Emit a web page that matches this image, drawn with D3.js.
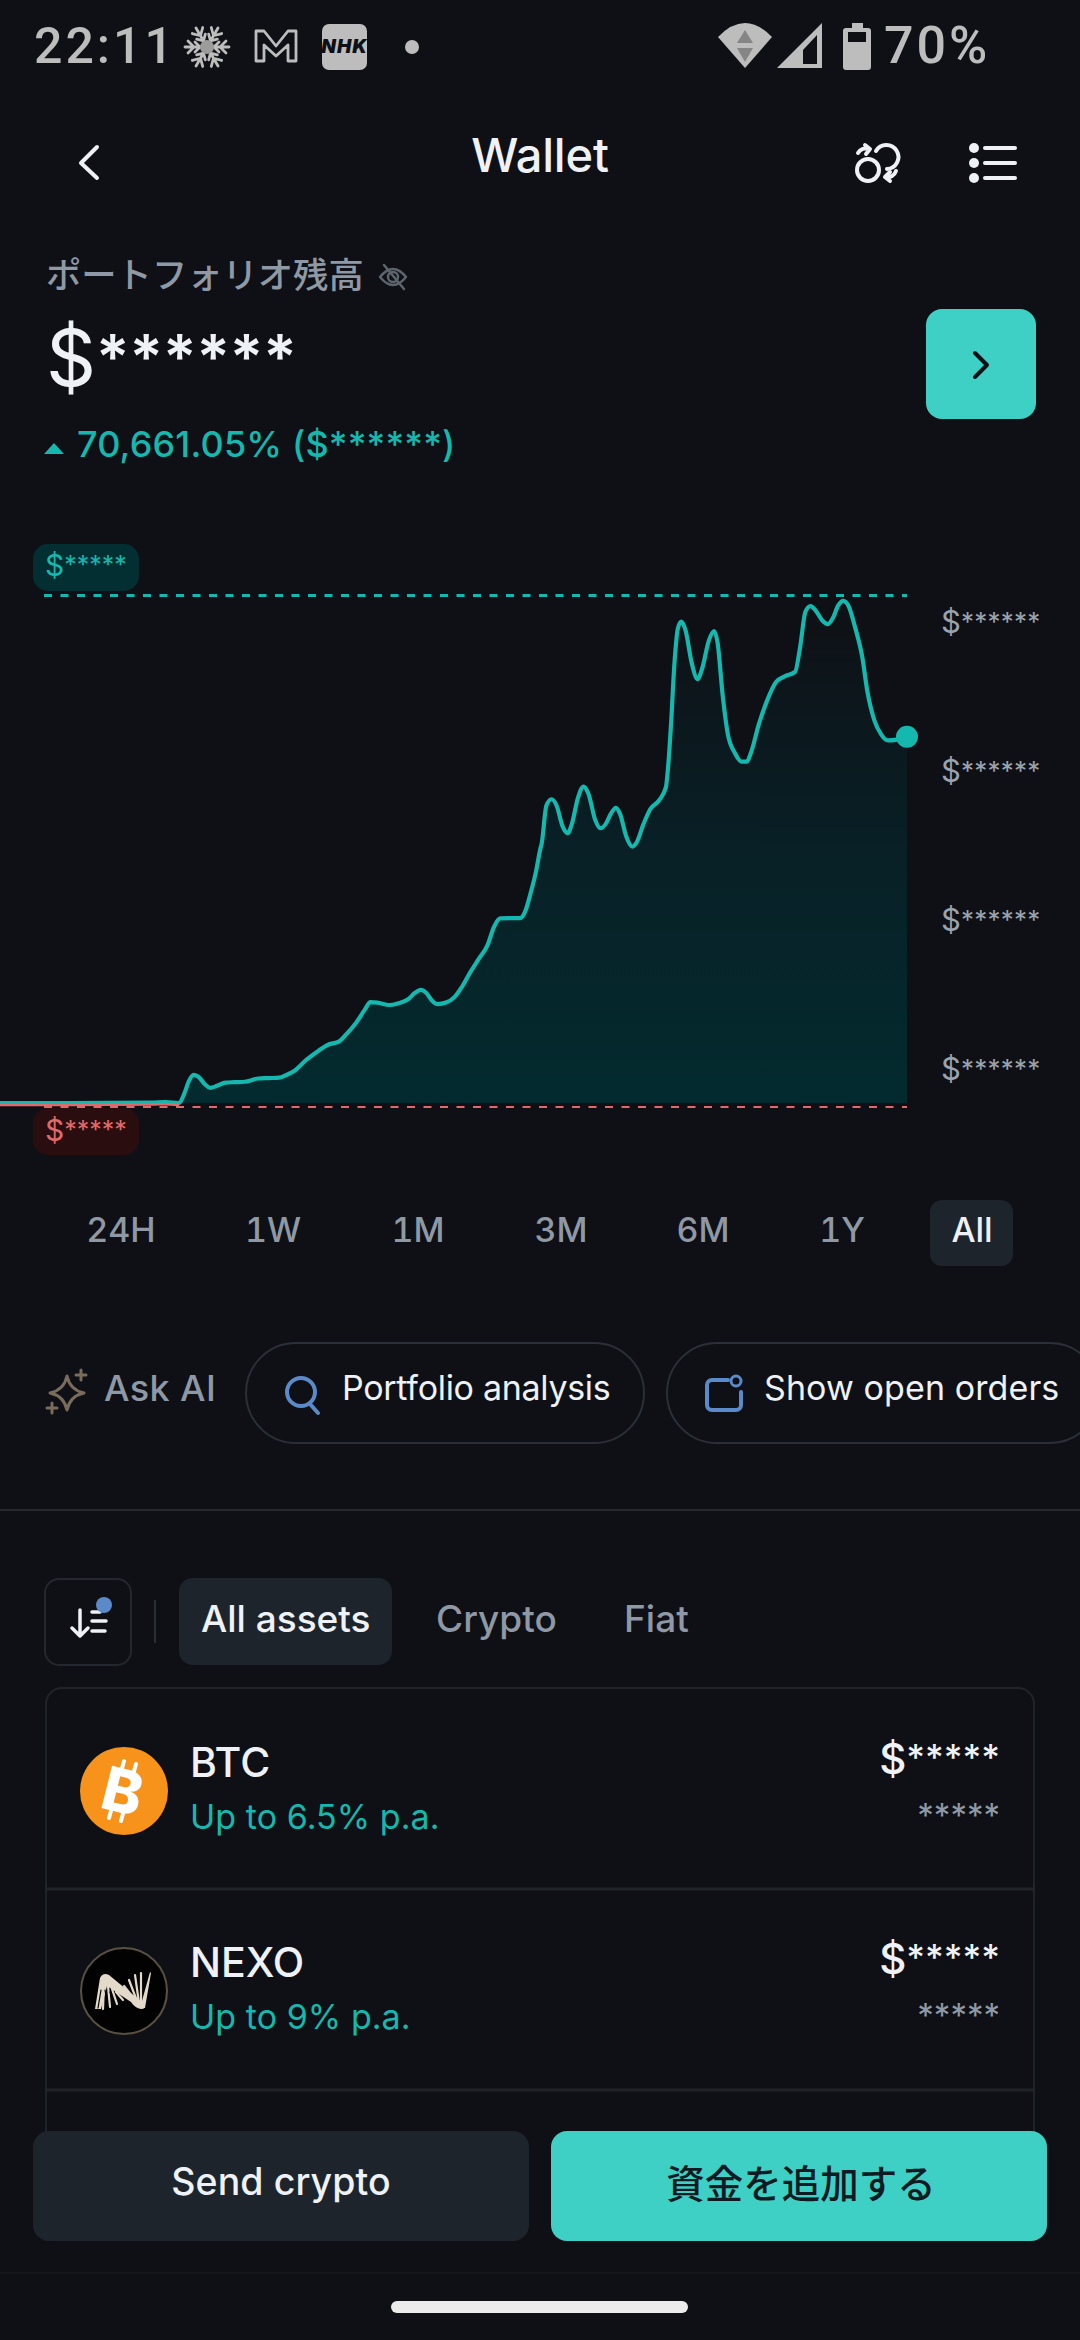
<!DOCTYPE html>
<html>
<head>
<meta charset="utf-8">
<script src="https://cdn.jsdelivr.net/npm/d3@7.9.0/dist/d3.min.js"></script>
<style>
  html, body { margin: 0; padding: 0; background: #0f1015; }
  svg { display: block; font-family: Inter, "Noto Sans CJK JP", sans-serif; }
</style>
</head>
<body>
<svg id="app" width="1080" height="2340"></svg>
<script>
const time = [0, 200, 440, 480, 520, 535, 548, 562, 575, 595, 610, 630, 655, 680, 710, 750, 780, 810, 830, 855,
  890, 925, 950, 985, 1005, 1035, 1060, 1075, 1095, 1130, 1155, 1185, 1205, 1222, 1237, 1255, 1270, 1295, 1320, 1340,
  1365, 1390, 1415, 1435, 1452, 1480, 1510, 1525, 1540, 1555, 1568, 1573, 1586, 1601, 1616, 1633, 1648, 1660, 1678, 1694,
  1708, 1728, 1743, 1758, 1773, 1788, 1800, 1818, 1836, 1848, 1868, 1888, 1913, 1933, 1940, 1948, 1958, 1968, 1978, 1990,
  2008, 2025, 2038, 2058, 2073, 2083, 2098, 2113, 2133, 2153, 2168, 2180, 2203, 2228, 2253, 2278, 2308, 2323, 2338, 2353,
  2368, 2388, 2403, 2418, 2433, 2448, 2463, 2483, 2503, 2518, 2538, 2558, 2578, 2603, 2633];
const balance = [0, 0, 1, 2, 0, 23, 53, 69, 65, 46, 37, 42, 50, 51, 52, 60, 61, 62, 68, 79,
  106, 128, 142, 151, 168, 198, 230, 247, 246, 240, 244, 254, 270, 277, 270, 250, 242, 246, 260, 283,
  320, 353, 386, 433, 452, 453, 453, 470, 513, 563, 620, 638, 728, 744, 728, 678, 661, 683, 748, 775,
  758, 693, 673, 683, 708, 723, 708, 653, 628, 638, 683, 720, 741, 773, 828, 928, 1078, 1163, 1179, 1158,
  1078, 1038, 1063, 1133, 1156, 1128, 998, 903, 858, 836, 836, 858, 928, 988, 1031, 1045, 1056, 1118, 1203, 1217,
  1206, 1181, 1173, 1188, 1218, 1230, 1218, 1163, 1093, 1008, 938, 903, 888, 890, 897];
const balanceTicks = [83, 448, 813, 1178];
const balanceHigh = 1243;
const balanceLow = -10;
const lowRunEnd = 520;

const periods = ['24H', '1W', '1M', '3M', '6M', '1Y', 'All'];
const assetTabs = ['All assets', 'Crypto', 'Fiat'];
const assets = ['BTC', 'NEXO'];
const assetRates = ['Up to 6.5% p.a.', 'Up to 9% p.a.'];

const bg = '#0f1015';
const teal = '#14b8ae';
const tealBright = '#3ecfc5';
const red = '#e06a6a';
const grey = '#8e99a5';
const white = '#eef2f6';
const panel = '#1e242c';
const blue = '#5b8ac9';

const svg = d3.select('#app');

function label(parent, str, x, y, size, fill, weight = 400, anchor = 'start', spacing = 0) {
  return parent.append('text').attr('x', x).attr('y', y)
    .attr('font-size', size).attr('fill', fill).attr('font-weight', weight)
    .attr('text-anchor', anchor).attr('letter-spacing', spacing).text(str);
}

// masked amount: the dollar sign is drawn larger than the stars and the stars sit a bit higher
function fillMasked(text, stars, dollarSize, starSize, lift, starWeight = 400) {
  text.text(null);
  text.append('tspan').attr('font-size', dollarSize).text('$');
  text.append('tspan').attr('font-size', starSize).attr('font-weight', starWeight).attr('dy', -lift).text('*'.repeat(stars));
}

function masked(parent, stars, x, y, dollarSize, starSize, lift, fill, weight = 400, anchor = 'start', starWeight = 400) {
  const t = label(parent, '', x, y, dollarSize, fill, weight, anchor);
  fillMasked(t, stars, dollarSize, starSize, lift, starWeight);
  return t;
}

function box(parent, x0, y0, x1, y1, r, fill, stroke, sw = 2) {
  return parent.append('rect').attr('x', x0).attr('y', y0)
    .attr('width', x1 - x0).attr('height', y1 - y0).attr('rx', r)
    .attr('fill', fill || 'none').attr('stroke', stroke || 'none').attr('stroke-width', sw);
}

function stroked(parent, d, color, sw, fill = 'none') {
  return parent.append('path').attr('d', d).attr('fill', fill).attr('stroke', color)
    .attr('stroke-width', sw).attr('stroke-linecap', 'round').attr('stroke-linejoin', 'round');
}

// ---- chart
const x = d3.scaleLinear().domain([0, 2633]).range([0, 907]);
const y = d3.scaleLinear().domain([0, balanceHigh]).range([1103, 595.5]);
const points = time.map((t, i) => ({ t, v: balance[i] }));

const grad = svg.append('defs').append('linearGradient').attr('id', 'fade')
  .attr('gradientUnits', 'userSpaceOnUse')
  .attr('x1', 0).attr('x2', 0).attr('y1', y(balanceHigh)).attr('y2', y(0));
grad.append('stop').attr('offset', 0).attr('stop-color', '#0f1015');
grad.append('stop').attr('offset', 0.5).attr('stop-color', '#082026');
grad.append('stop').attr('offset', 1).attr('stop-color', '#032b2f');

const area = d3.area().x((d) => x(d.t)).y0(y(0)).y1((d) => y(d.v)).curve(d3.curveMonotoneX);
const line = d3.line().x((d) => x(d.t)).y((d) => y(d.v)).curve(d3.curveMonotoneX);

svg.append('path').attr('d', area(points)).attr('fill', 'url(#fade)');

// high and low markers
svg.append('line').attr('x1', 44).attr('x2', x(2633)).attr('y1', y(balanceHigh)).attr('y2', y(balanceHigh))
  .attr('stroke', teal).attr('stroke-width', 3).attr('stroke-dasharray', '8 8.5');
svg.append('line').attr('x1', 44).attr('x2', x(2633)).attr('y1', y(balanceLow)).attr('y2', y(balanceLow))
  .attr('stroke', red).attr('stroke-width', 2).attr('stroke-dasharray', '8 8.5');

svg.append('path').attr('d', line(points)).attr('fill', 'none').attr('stroke', teal).attr('stroke-width', 4.2);
svg.append('path').attr('d', line(points.filter((d) => d.t <= lowRunEnd)))
  .attr('transform', 'translate(0,2)').attr('fill', 'none').attr('stroke', red).attr('stroke-width', 2.4);

svg.append('circle').attr('cx', x(2633)).attr('cy', y(897)).attr('r', 11).attr('fill', teal);

box(svg, 33, 544, 139, 591, 15, '#032f33');
masked(svg, 5, 45, 576, 30, 25, 2, teal);
box(svg, 33, 1108, 139, 1155, 15, '#2a0d0e');
masked(svg, 5, 45, 1141, 30, 25, 2, red);

const axis = d3.axisRight(y).tickValues(balanceTicks).tickSize(0).tickPadding(0);
const axisG = svg.append('g').attr('transform', 'translate(941,0)').call(axis);
axisG.select('.domain').remove();
axisG.selectAll('text').attr('fill', '#9aa3ad').attr('font-family', 'Inter, sans-serif').attr('dy', 10)
  .attr('letter-spacing', 0.2)
  .each(function () { fillMasked(d3.select(this), 6, 31, 26, 2); });

// ---- status bar
const statusGrey = '#bdbdbd';
label(svg, '22:11', 34, 63, 50, statusGrey, 500, 'start', 3).attr('font-family', 'Roboto');
label(svg, '70%', 884, 63, 52, statusGrey, 500, 'start', 3).attr('font-family', 'Roboto');

const snow = svg.append('g').attr('transform', 'translate(207,47)');
d3.range(3).forEach((i) => {
  const arm = snow.append('g').attr('transform', `rotate(${90 + i * 60})`);
  stroked(arm, 'M0,-22V22M-6,-19L0,-13L6,-19M-5,-12L0,-7L5,-12M-6,19L0,13L6,19M-5,12L0,7L5,12', statusGrey, 2.8);
});
snow.append('circle').attr('r', 7).attr('fill', '#9c9c9c');
stroked(svg, 'M256,31H264L276,46L288,31H296V61H288V45L276,56L264,45V61H256Z', statusGrey, 2.8);
box(svg, 322, 24, 367, 70, 7, statusGrey);
label(svg, 'NHK', 344.5, 53, 19, '#0f1015', 900, 'middle', 1).attr('font-style', 'italic');
svg.append('circle').attr('cx', 412).attr('cy', 47).attr('r', 7).attr('fill', statusGrey);
svg.append('path').attr('d', 'M718,37Q745,9 772,37L745,68Z').attr('fill', statusGrey);
svg.append('path').attr('d', 'M745,30L737,43H753Z M745,62L737,48H753Z').attr('fill', '#858585');
svg.append('path').attr('d', 'M822,23V68H777ZM817,35L803,50V64H817Z').attr('fill', statusGrey).attr('fill-rule', 'evenodd');
svg.append('path').attr('d', 'M852,23H863V28H868Q871,28 871,31V67Q871,70 868,70H846Q843,70 843,67V31Q843,28 846,28H852Z').attr('fill', statusGrey);
box(svg, 848, 32, 866, 42, 0, '#0f1015');

// ---- nav bar
stroked(svg, 'M97,147L81,163L97,178', white, 4);
label(svg, 'Wallet', 540, 172, 47, white, 500, 'middle', -0.2);
svg.append('circle').attr('cx', 868).attr('cy', 170).attr('r', 11).attr('fill', 'none').attr('stroke', white).attr('stroke-width', 4);
stroked(svg, 'M876,151a12,12 0 1 1 11,18', white, 4);
stroked(svg, 'M858,153a9,9 0 0 1 11,-4M865,145l5,4l-4,5', white, 4);
stroked(svg, 'M896,171a9,9 0 0 1 -11,6M890,172l-5,5l5,4', white, 4);
[0, 1, 2].forEach((i) => {
  svg.append('circle').attr('cx', 974).attr('cy', 148 + i * 15).attr('r', 5).attr('fill', white);
  svg.append('line').attr('x1', 985).attr('x2', 1015).attr('y1', 148 + i * 15).attr('y2', 148 + i * 15)
    .attr('stroke', white).attr('stroke-width', 4).attr('stroke-linecap', 'round');
});

// ---- balance header
label(svg, 'ポートフォリオ残高', 46, 288, 35.3, grey, 500).attr('font-family', '"Noto Sans CJK JP"');
stroked(svg, 'M380,277q13,-16 26,0q-13,16 -26,0ZM384,265L404,289', '#5c646c', 2.5);
svg.append('circle').attr('cx', 393).attr('cy', 277).attr('r', 5).attr('fill', 'none').attr('stroke', '#5c646c').attr('stroke-width', 2.5);
masked(svg, 6, 46, 386, 78, 62, 7, white, 400, 'start', 600);
box(svg, 926, 309, 1036, 419, 16, tealBright);
stroked(svg, 'M975,353L987,365L975,377', bg, 4);
svg.append('path').attr('d', 'M44,454L54,443L64,454Z').attr('fill', teal);
label(svg, '70,661.05% ($******)', 77, 457, 36, teal, 500, 'start', 0.15);

// ---- period switch
const periodX = [121, 273, 418, 561, 703, 842, 972];
box(svg, 930, 1200, 1013, 1266, 12, panel);
periods.forEach((p, i) => {
  label(svg, p, periodX[i], 1242, 34, p === 'All' ? white : grey, 500, 'middle')
    .style('font-feature-settings', '"tnum"');
});

// ---- ask AI row
const sparkle = '#7a6c5d';
stroked(svg, 'M67,1376q3,14 17,17q-14,3 -17,17q-3,-14 -17,-17q14,-3 17,-17Z', sparkle, 3);
stroked(svg, 'M81,1370v10M76,1375h10M52,1403v10M47,1408h10', sparkle, 3);
label(svg, 'Ask AI', 104, 1401, 36, grey, 500, 'start', 0.4);
box(svg, 246, 1343, 644, 1443, 50, 'none', '#2a3038');
box(svg, 667, 1343, 1100, 1443, 50, 'none', '#2a3038');
svg.append('circle').attr('cx', 301).attr('cy', 1392).attr('r', 14).attr('fill', 'none').attr('stroke', blue).attr('stroke-width', 4);
stroked(svg, 'M310,1404L318,1413', blue, 4);
label(svg, 'Portfolio analysis', 342, 1400, 34, white, 400, 'start', -0.3);
stroked(svg, 'M728,1380H712a5,5 0 0 0 -5,5V1405a5,5 0 0 0 5,5H736a5,5 0 0 0 5,-5V1392', blue, 4);
svg.append('circle').attr('cx', 736).attr('cy', 1381).attr('r', 5).attr('fill', 'none').attr('stroke', blue).attr('stroke-width', 3);
label(svg, 'Show open orders', 764, 1400, 34, white, 400, 'start', 0.1);

svg.append('line').attr('x1', 0).attr('x2', 1080).attr('y1', 1510).attr('y2', 1510).attr('stroke', '#24282f').attr('stroke-width', 2);

// ---- asset filters
box(svg, 45, 1579, 131, 1665, 14, 'none', '#232830');
stroked(svg, 'M80,1610V1636M72,1628L80,1636L88,1628', white, 3.5);
stroked(svg, 'M92,1612H100M92,1621H106M92,1631H105', white, 3.5);
svg.append('circle').attr('cx', 104).attr('cy', 1605).attr('r', 8).attr('fill', blue);
svg.append('line').attr('x1', 155).attr('x2', 155).attr('y1', 1600).attr('y2', 1643).attr('stroke', '#2a2f36').attr('stroke-width', 2);
box(svg, 179, 1578, 392, 1665, 14, panel);
const tabX = [201, 436, 624];
assetTabs.forEach((tab, i) => {
  label(svg, tab, tabX[i], 1632, 37, i === 0 ? white : grey, 500);
});

// ---- asset list
const cardLine = '#1f242b';
stroked(svg, 'M46,2131V1704a16,16 0 0 1 16,-16H1018a16,16 0 0 1 16,16V2131', cardLine, 2);
[1889, 2090].forEach((yy) => {
  svg.append('line').attr('x1', 45).attr('x2', 1035).attr('y1', yy).attr('y2', yy).attr('stroke', cardLine).attr('stroke-width', 3);
});
assets.forEach((name, i) => {
  const row = svg.append('g').attr('transform', `translate(0,${i * 200})`);
  label(row, name, 190, 1777, 41, white, 500);
  label(row, assetRates[i], 190, 1829, 34, teal, 400, 'start', 0.05);
  masked(row, 5, 1000, 1774, 42, 36, 4, white, 500, 'end', 500);
  label(row, '*****', 1000, 1827, 33, grey, 400, 'end');
});
svg.append('circle').attr('cx', 124).attr('cy', 1791).attr('r', 44).attr('fill', '#f7931a');
label(svg, 'B', 123, 1813, 60, '#fff', 800, 'middle').attr('transform', 'rotate(14 124 1791)');
stroked(svg, 'M124,1761l-3,11M136,1764l-3,11M112,1807l-3,11M124,1810l-3,11', '#fff', 4);

svg.append('circle').attr('cx', 124).attr('cy', 1991).attr('r', 43).attr('fill', '#020202').attr('stroke', '#5b5142').attr('stroke-width', 2);
const nexoInk = '#e4dac9';
svg.append('path').attr('fill', nexoInk)
  .attr('d', 'M95,2009L100,1978Q103,1972 109,1975L143,2003Q147,2009 141,2009Q135,2008 131,2002L107,1986L101,2009Z');
svg.append('path').attr('fill', nexoInk).attr('d', 'M140,2008L150,1972L151,1973L145,2008Z');
stroked(svg, 'M104,1984L103,2009M108,1986L110,2007M112,1989L117,2004M116,1992L123,2000', nexoInk, 2.2);
stroked(svg, 'M135,2000L124,1986M137,2001L129,1980M139,2003L135,1975M141,2005L141,1973', nexoInk, 2.2);
stroked(svg, 'M101,1990L98,2008M105,1990L108,2009M110,1992L115,2006', '#020202', 1.2);

// ---- bottom actions
box(svg, 33, 2131, 529, 2241, 16, panel);
box(svg, 551, 2131, 1047, 2241, 16, tealBright);
label(svg, 'Send crypto', 281, 2195, 37.5, white, 500, 'middle', 0.1);
label(svg, '資金を追加する', 801, 2198, 38.5, '#0f1b22', 500, 'middle').attr('font-family', '"Noto Sans CJK JP"');
svg.append('line').attr('x1', 0).attr('x2', 1080).attr('y1', 2273).attr('y2', 2273).attr('stroke', '#1a1d23').attr('stroke-width', 1);
box(svg, 391, 2301, 688, 2313, 6, '#ececec');
</script>
</body>
</html>
